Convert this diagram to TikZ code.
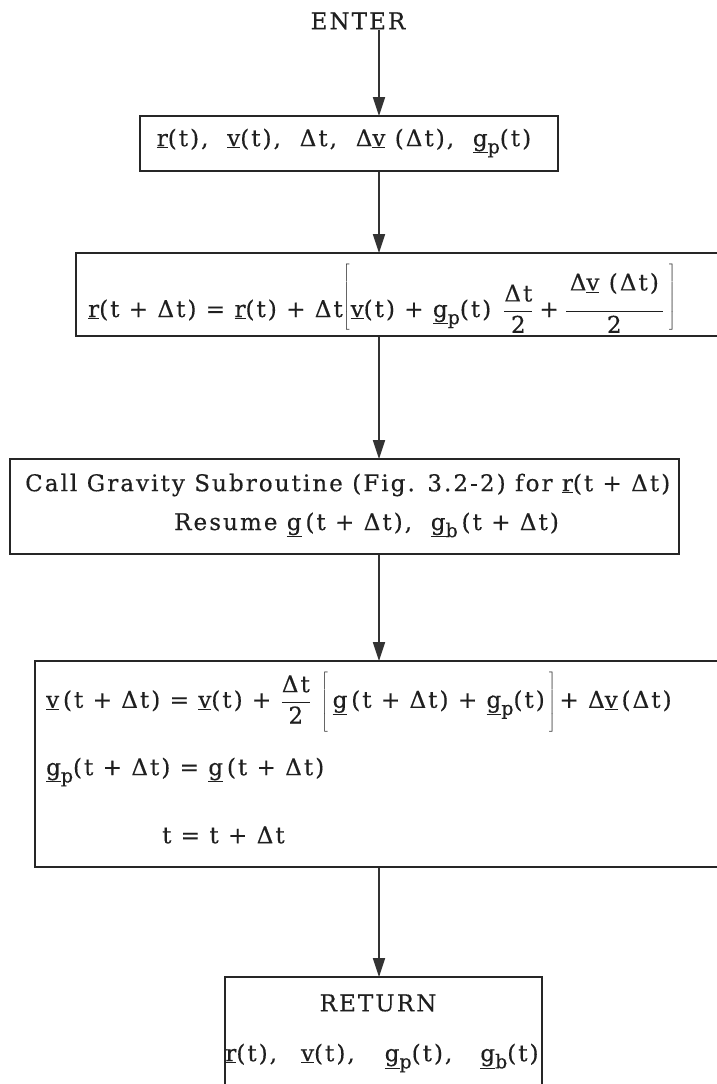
\RequirePackage{fix-cm}
\documentclass[tikz,border=0pt]{standalone}
\usepackage{fontspec}
\setmainfont{DejaVu Serif}[LetterSpace=9, FakeBold=0.4]
\usetikzlibrary{arrows.meta}
\newcommand{\ul}[1]{\underline{#1}}
\newcommand{\sbs}[1]{\raisebox{-0.6ex}{\fontsize{19}{19}\selectfont #1}}
\newcommand{\fr}[2]{$\displaystyle\frac{\mbox{#1}}{\mbox{#2}}$}
\newcommand{\lbrk}[1]{$\left[\vcenter{\hrule height #1 width 0pt}\right.$}
\newcommand{\rbrk}[1]{$\left.\vcenter{\hrule height #1 width 0pt}\right]$}
\tikzset{
  box/.style={draw=black!85, line width=1.8pt, inner sep=0pt, fill=none},
  txt/.style={font=\fontsize{23}{27}\selectfont, inner sep=0pt, text=black!88},
  flow/.style={draw=black!80, line width=1.6pt, -{Triangle[length=19pt,width=12pt]}, shorten >=-1pt}
}
\begin{document}
\begin{tikzpicture}[x=1pt,y=-1pt]
\useasboundingbox (0,0) rectangle (717,1084);
% boxes
\node[box, minimum width=418pt, minimum height=55pt] (b1) at (349,143.5) {};
\node[box, minimum width=664pt, minimum height=83pt] (b2) at (408,294.5) {};
\node[box, minimum width=669pt, minimum height=95pt] (b3) at (344.5,506.5) {};
\node[box, minimum width=705pt, minimum height=206pt] (b4) at (387.5,764) {};
\node[box, minimum width=317pt, minimum height=133pt] (b5) at (383.5,1043.5) {};
\coordinate (ax) at (379,0);
% texts
\node[txt] (enter) at (358,21) {ENTER};
\node[txt] (t1) at (344,143) {\ul{r}(t),\ \ \ul{v}(t),\ \ Δt,\ \ Δ\ul{v} (Δt),\ \ \ul{g}\sbs{p}(t)};
\node[txt, anchor=base west] (t2) at (88,317) {\ul{r}(t + Δt) = \ul{r}(t) + Δt\raisebox{14pt}{\lbrk{70pt}}\ul{v}(t) + \ul{g}\sbs{p}(t)\hspace{12pt}\fr{Δt}{2}\hspace{6pt}+\hspace{6pt}\fr{\raisebox{11pt}{\,Δ\ul{v} (Δt)\,}}{2}\hspace{4pt}\raisebox{14pt}{\rbrk{70pt}}};
\node[txt, anchor=west] (t3a) at (25,485) {Call Gravity Subroutine (Fig. 3.2-2) for \ul{r}(t + Δt)};
\node[txt, anchor=west] (t3b) at (174,525) {Resume \ul{g}\,(t + Δt),\ \ \ul{g}\sbs{b}\,(t + Δt)};
\node[txt, anchor=west] (t4a) at (46,702) {\ul{v}\,(t + Δt) = \ul{v}(t) + \fr{Δt}{2}\hspace{10pt}\lbrk{64pt}\,\ul{g}\,(t + Δt) + \ul{g}\sbs{p}(t)\hspace{3pt}\rbrk{64pt}\,+ Δ\ul{v}\,(Δt)};
\node[txt, anchor=west] (t4b) at (46,772) {\ul{g}\sbs{p}(t + Δt) = \ul{g}\,(t + Δt)};
\node[txt, anchor=west] (t4c) at (162,835) {t = t + Δt};
\node[txt] (t5a) at (378,1003) {RETURN};
\node[txt] (t5b) at (382,1058) {\ul{r}(t),\hspace{24pt}\ul{v}(t),\hspace{30pt}\ul{g}\sbs{p}(t),\hspace{28pt}\ul{g}\sbs{b}(t)};
% connectors
\draw[flow] (enter.south -| ax) -- (ax |- b1.north);
\draw[flow] (b1.south -| ax) -- (ax |- b2.north);
\draw[flow] (b2.south -| ax) -- (ax |- b3.north);
\draw[flow] (b3.south -| ax) -- (ax |- b4.north);
\draw[flow] (b4.south -| ax) -- (ax |- b5.north);
\end{tikzpicture}
\end{document}
